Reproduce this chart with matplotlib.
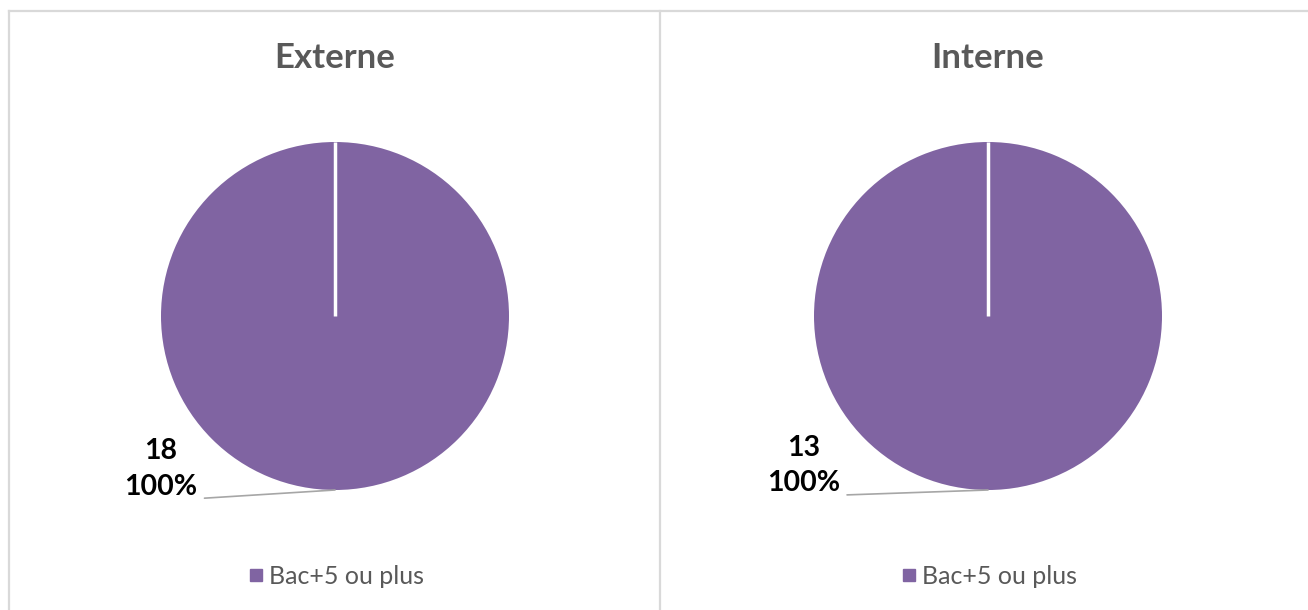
"""Two side-by-side pies: education level of external vs internal candidates."""
import matplotlib
matplotlib.use("Agg")
import matplotlib.pyplot as plt
from matplotlib.lines import Line2D

plt.rcParams["font.family"] = ["Lato", "DejaVu Sans"]

# Data
panels = ["Externe", "Interne"]
categories = ["Bac+5 ou plus"]
counts = {"Externe": [18], "Interne": [13]}

PURPLE = "#8064A2"
GREY_TEXT = "#595959"
BORDER = "#D9D9D9"

W, H = 1308, 610
fig = plt.figure(figsize=(W / 100, H / 100), dpi=100)

# pixel geometry for each panel (pie centre x, radius, label offset)
centres_x = [335, 988]
label_pos = [(-0.79, -0.88), (-0.85, -0.86)]
centre_y = 316
radius_px = 174
half = radius_px * 1.5

for name, cx, lp in zip(panels, centres_x, label_pos):
    ax = fig.add_axes([(cx - half) / W, (H - centre_y - half) / H,
                       2 * half / W, 2 * half / H])
    vals = counts[name]
    total = sum(vals)
    ax.pie(vals, colors=[PURPLE], startangle=90, counterclock=False,
           radius=1.0)
    # white separator on the slice boundary
    ax.plot([0, 0], [0, 1], color="white", lw=2.5, solid_capstyle="butt")
    for v in vals:
        ax.annotate(f"{v}\n{v / total * 100:.0f}%", xy=(0, -1.0),
                    xytext=lp, ha="right", va="center",
                    multialignment="center", fontsize=20.5, fontweight="bold",
                    color="black", linespacing=1.45,
                    arrowprops=dict(arrowstyle="-", color="#A6A6A6", lw=1.2,
                                    shrinkA=3, shrinkB=0, relpos=(1.0, 0.02)))
    ax.set_xlim(-1.5, 1.5)
    ax.set_ylim(-1.5, 1.5)
    ax.set_aspect("equal")
    ax.axis("off")

    fig.text(cx / W, 1 - 58 / H, name, ha="center", va="center",
             fontsize=25, fontweight="bold", color=GREY_TEXT)

    handle = Line2D([], [], marker="s", linestyle="none", markersize=9,
                    markerfacecolor=PURPLE, markeredgecolor=PURPLE)
    fig.legend([handle], categories, loc="center",
               bbox_to_anchor=(cx / W, 1 - 576 / H), frameon=False,
               fontsize=18, labelcolor=GREY_TEXT, handletextpad=0.1,
               handlelength=0.8)

# chart area borders
lw = 1.6
fig.add_artist(Line2D([9 / W, 1], [1 - 11 / H, 1 - 11 / H], color=BORDER,
                      lw=lw, transform=fig.transFigure))
for x in (9, 660):
    fig.add_artist(Line2D([x / W, x / W], [0, 1 - 11 / H], color=BORDER,
                          lw=lw, transform=fig.transFigure))

fig.savefig("out.png", dpi=100, facecolor="white")
